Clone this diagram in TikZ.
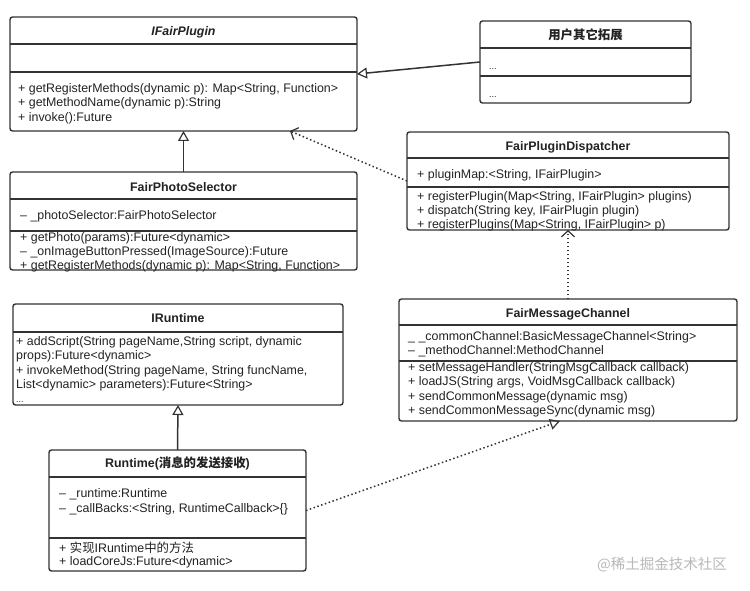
\documentclass[tikz,border=0pt]{standalone}
\usepackage{fontspec}
\setmainfont{Liberation Sans}
\newfontfamily\cjk{Noto Sans CJK SC}
\usetikzlibrary{arrows.meta,calc}
\definecolor{linec}{HTML}{333333}
\definecolor{txtc}{HTML}{222222}
\definecolor{wmc}{HTML}{B8B8B8}
\begin{document}
\begin{tikzpicture}[x=1pt,y=-1pt,
  box/.style={draw=linec, line width=1.4pt, rounded corners=2.5pt, fill=white, inner sep=0pt, outer sep=0pt},
  div/.style={draw=linec, line width=1.2pt},
  txt/.style={anchor=west, inner sep=0pt, yshift=-1.8pt, text height=9pt, text depth=2pt, font=\fontsize{12.4}{14}\selectfont, text=txtc},
  ttl/.style={inner sep=0pt, yshift=-1pt, text height=9pt, text depth=2pt, font=\fontsize{12.4}{14}\selectfont\bfseries, text=txtc},
  gen/.style={draw=linec, line width=1.5pt, -{Triangle[open, length=10pt, width=11pt, line width=1.2pt]}},
  dep/.style={draw=linec, line width=1.5pt, dash pattern=on 1.5pt off 2.5pt, -{Straight Barb[length=6pt, width=13pt, line width=1.2pt]}},
  real/.style={draw=linec, line width=1.5pt, dash pattern=on 1.5pt off 2.5pt, -{Triangle[open, length=10pt, width=11pt, line width=1.2pt]}}
]
\useasboundingbox[fill=white] (0,0) rectangle (750,591);

% ---------- IFairPlugin ----------
\node[box, minimum width=347pt, minimum height=114pt] (ifp) at (183.5,74) {};
\draw[div] (10,44) -- (357,44);
\draw[div] (10,72) -- (357,72);
\node[ttl, font=\fontsize{12.4}{14}\selectfont\bfseries\itshape] (ifpT) at (183.5,31) {IFairPlugin};
\node[txt] (ifp1) at (18,87) {+ getRegisterMethods(dynamic p): Map<String, Function>};
\node[txt] (ifp2) at (18,101) {+ getMethodName(dynamic p):String};
\node[txt] (ifp3) at (18,116) {+ invoke():Future};

% ---------- 用户其它拓展 ----------
\node[box, minimum width=211pt, minimum height=82pt] (uext) at (585.5,62) {};
\draw[div] (480,48) -- (691,48);
\draw[div] (480,76) -- (691,76);
\node[ttl] (uextT) at (585.5,35) {\cjk\bfseries 用户其它拓展};
\node[txt, font=\fontsize{9}{10}\selectfont] (uext1) at (489,64) {...};
\node[txt, font=\fontsize{9}{10}\selectfont] (uext2) at (489,92) {...};

% ---------- FairPluginDispatcher ----------
\node[box, minimum width=322pt, minimum height=98pt] (disp) at (568,181) {};
\draw[div] (407,158) -- (729,158);
\draw[div] (407,187) -- (729,187);
\node[ttl] (dispT) at (568,146) {FairPluginDispatcher};
\node[txt] (disp0) at (417,173) {+ pluginMap:<String, IFairPlugin>};
\node[txt] (disp1) at (417,195) {+ registerPlugin(Map<String, IFairPlugin> plugins)};
\node[txt] (disp2) at (417,209) {+ dispatch(String key, IFairPlugin plugin)};
\node[txt] (disp3) at (417,223) {+ registerPlugins(Map<String, IFairPlugin> p)};

% ---------- FairPhotoSelector ----------
\node[box, minimum width=347pt, minimum height=98pt] (fps) at (183.5,221) {};
\draw[div] (10,199) -- (357,199);
\draw[div] (10,231) -- (357,231);
\node[ttl] (fpsT) at (183.5,187) {FairPhotoSelector};
\node[txt] (fps0) at (20,214) {– \_photoSelector:FairPhotoSelector};
\node[txt] (fps1) at (20,236) {+ getPhoto(params):Future<dynamic>};
\node[txt] (fps2) at (20,250) {– \_onImageButtonPressed(ImageSource):Future};
\node[txt] (fps3) at (20,264) {+ getRegisterMethods(dynamic p): Map<String, Function>};

% ---------- IRuntime ----------
\node[box, minimum width=330pt, minimum height=101pt] (irt) at (178,354.5) {};
\draw[div] (13,332) -- (343,332);
\node[ttl] (irtT) at (178,318) {IRuntime};
\node[txt] (irt1) at (16,340) {+ addScript(String pageName,String script, dynamic};
\node[txt] (irt2) at (16,354) {props):Future<dynamic>};
\node[txt] (irt3) at (16,369) {+ invokeMethod(String pageName, String funcName,};
\node[txt] (irt4) at (16,383) {List<dynamic> parameters):Future<String>};
\node[txt, font=\fontsize{9}{10}\selectfont] (irt5) at (16,397) {...};

% ---------- FairMessageChannel ----------
\node[box, minimum width=338pt, minimum height=122pt] (fmc) at (568,360) {};
\draw[div] (399,325) -- (737,325);
\draw[div] (399,361) -- (737,361);
\node[ttl] (fmcT) at (568,313) {FairMessageChannel};
\node[txt] (fmc0) at (408,335) {\_ \_commonChannel:BasicMessageChannel<String>};
\node[txt] (fmc1) at (408,349) {– \_methodChannel:MethodChannel};
\node[txt] (fmc2) at (408,366) {+ setMessageHandler(StringMsgCallback callback)};
\node[txt] (fmc3) at (408,380) {+ loadJS(String args, VoidMsgCallback callback)};
\node[txt] (fmc4) at (408,395) {+ sendCommonMessage(dynamic msg)};
\node[txt] (fmc5) at (408,409) {+ sendCommonMessageSync(dynamic msg)};

% ---------- Runtime ----------
\node[box, minimum width=257pt, minimum height=121pt] (rt) at (177.5,510.5) {};
\draw[div] (49,477) -- (306,477);
\draw[div] (49,538) -- (306,538);
\node[ttl] (rtT) at (177.5,463) {Runtime({\cjk\bfseries 消息的发送接收})};
\node[txt] (rt0) at (59,492) {– \_runtime:Runtime};
\node[txt] (rt1) at (59,507) {– \_callBacks:<String, RuntimeCallback>\{\}};
\node[txt] (rt2) at (59,547) {+ {\cjk 实现}IRuntime{\cjk 中的方法}};
\node[txt] (rt3) at (59,560) {+ loadCoreJs:Future<dynamic>};

% ---------- connectors ----------
\draw[gen] (fps.north) -- (ifp.south);
\draw[gen] (uext.west) -- (ifp.east);
\draw[dep] (disp.west) -- ($(ifp.south west)+(280,0)$);
\draw[dep] (fmc.north) -- (disp.south);
\draw[gen] (rt.north) -- (irt.south);
\draw[real] (rt.east) -- ($(fmc.south)+(-8,0)$);

% ---------- watermark ----------
\node[inner sep=0pt, text=wmc, font=\cjk\fontsize{14.5}{16}\selectfont] (wm) at (662,565) {@稀土掘金技术社区};
\end{tikzpicture}
\end{document}
